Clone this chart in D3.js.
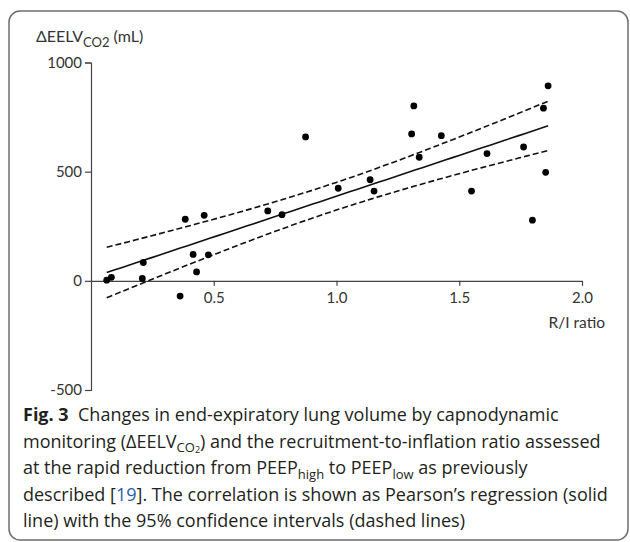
<!DOCTYPE html>
<html>
<head>
<meta charset="utf-8">
<script src="https://cdn.jsdelivr.net/npm/d3@7"></script>
<style>
  body { margin: 0; background: #fff; }
  svg { display: block; }
</style>
</head>
<body>
<div id="chart"></div>
<script>
// R/I ratio (x) and change in EELV by capnodynamic monitoring (y, mL)
const rri = [0.064, 0.083, 0.209, 0.213, 0.363, 0.384, 0.416, 0.430, 0.461, 0.478,
             0.720, 0.778, 0.874, 1.007, 1.137, 1.153, 1.306, 1.315, 1.337, 1.427,
             1.550, 1.613, 1.762, 1.798, 1.843, 1.852, 1.862]
const deelv = [3, 16, 11, 84, -70, 282, 121, 41, 300, 119,
               320, 303, 659, 424, 463, 411, 673, 801, 566, 665,
               411, 583, 613, 278, 791, 497, 893]
const xTicks = [0.5, 1.0, 1.5, 2.0]
const yTicks = [-500, 0, 500, 1000]
const tCrit = 2.0595 // t(0.975, df = 25)

const width = 630, height = 542
const svg = d3.select("#chart").append("svg")
  .attr("width", width)
  .attr("height", height)

// panel frame
svg.append("rect")
  .attr("x", 9).attr("y", 11)
  .attr("width", 619).attr("height", 529)
  .attr("rx", 11).attr("ry", 11)
  .attr("fill", "none")
  .attr("stroke", "#6e6e6e")
  .attr("stroke-width", 1.5)

const x = d3.scaleLinear().domain([0, 2]).range([91, 582])
const y = d3.scaleLinear().domain([-500, 1000]).range([390, 62.5])

const axisFont = "Lato, 'Noto Sans', sans-serif"
const axisColor = "#444"

// y axis
const gy = svg.append("g")
  .attr("transform", "translate(" + x(0) + ",0)")
  .call(d3.axisLeft(y).tickValues(yTicks).tickFormat(d3.format("d")).tickSize(6).tickPadding(3))
gy.select(".domain").attr("stroke", axisColor).attr("stroke-width", 1.2)
gy.selectAll(".tick line").attr("stroke", axisColor).attr("stroke-width", 1.2)
gy.selectAll(".tick text")
  .attr("font-family", axisFont).attr("font-size", 15).attr("fill", "#333")
  .text(d => d < 0 ? "-" + Math.abs(d) : d)

// x axis at y = 0
const gx = svg.append("g")
  .attr("transform", "translate(0," + y(0) + ")")
  .call(d3.axisBottom(x).tickValues(xTicks).tickFormat(d3.format(".1f")).tickSize(5).tickSizeOuter(0).tickPadding(7))
gx.select(".domain").attr("stroke", axisColor).attr("stroke-width", 1.2)
gx.selectAll(".tick line").attr("stroke", axisColor).attr("stroke-width", 1.2)
gx.selectAll(".tick text")
  .attr("font-family", axisFont).attr("font-size", 15).attr("fill", "#333")

svg.append("text")
  .attr("x", 605).attr("y", 328)
  .attr("text-anchor", "end")
  .attr("font-family", axisFont).attr("font-size", 15.5).attr("fill", "#333")
  .text("R/I ratio")

// y axis title
const yt = svg.append("text")
  .attr("x", 36).attr("y", 42)
  .attr("font-family", axisFont).attr("font-size", 16).attr("fill", "#333")
yt.append("tspan").text("ΔEELV")
yt.append("tspan").attr("dy", 5).attr("font-size", 13).text("CO2")
yt.append("tspan").attr("dy", -5).text(" (mL)")

// Pearson regression with 95% confidence band
const n = rri.length
const mx = d3.mean(rri), my = d3.mean(deelv)
let sxx = 0, sxy = 0
rri.forEach((v, i) => { sxx += (v - mx) * (v - mx); sxy += (v - mx) * (deelv[i] - my) })
const slope = sxy / sxx
const icpt = my - slope * mx
let sse = 0
rri.forEach((v, i) => { const r = deelv[i] - (icpt + slope * v); sse += r * r })
const s = Math.sqrt(sse / (n - 2))

const xs = d3.range(0, 61).map(i => d3.min(rri) + (d3.max(rri) - d3.min(rri)) * i / 60)
const fit = xs.map(v => {
  const yh = icpt + slope * v
  const h = tCrit * s * Math.sqrt(1 / n + (v - mx) * (v - mx) / sxx)
  return { x: v, y: yh, lo: yh - h, hi: yh + h }
})

const line = key => d3.line().x(d => x(d.x)).y(d => y(d[key]))

svg.append("path").datum(fit)
  .attr("d", line("y"))
  .attr("fill", "none").attr("stroke", "#111").attr("stroke-width", 1.6)
;["lo", "hi"].forEach(k => {
  svg.append("path").datum(fit)
    .attr("d", line(k))
    .attr("fill", "none").attr("stroke", "#111").attr("stroke-width", 1.6)
    .attr("stroke-dasharray", "6,3")
})

// data points
svg.selectAll("circle.pt")
  .data(rri.map((v, i) => ({ x: v, y: deelv[i] })))
  .enter()
  .append("circle")
    .attr("class", "pt")
    .attr("cx", d => x(d.x))
    .attr("cy", d => y(d.y))
    .attr("r", 3.4)
    .attr("fill", "#000")

// caption; each part: [kind, text, dy]
const capFont = "'Open Sans', 'Noto Sans', sans-serif"
const capColor = "#231f20"
const capLines = [
  { y: 421, parts: [["b", "Fig. 3", 0], ["n", "\u00a0 Changes in end-expiratory lung volume by capnodynamic", 0]] },
  { y: 447.5, parts: [["n", "monitoring (ΔEELV", 0], ["sub", "CO", 4], ["sub2", "2", 1.5], ["n", ") and the recruitment-to-inflation ratio assessed", -5.5]] },
  { y: 474, parts: [["n", "at the rapid reduction from PEEP", 0], ["sub", "high", 5], ["n", " to PEEP", -5], ["sub", "low", 5], ["n", " as previously", -5]] },
  { y: 500.5, parts: [["n", "described [", 0], ["link", "19", 0], ["n", "]. The correlation is shown as Pearson’s regression (solid", 0]] },
  { y: 527, parts: [["n", "line) with the 95% confidence intervals (dashed lines)", 0]] }
]
capLines.forEach(l => {
  const t = svg.append("text")
    .attr("x", 23).attr("y", l.y)
    .attr("font-family", capFont).attr("font-size", 18).attr("fill", capColor)
  l.parts.forEach(([kind, str, dy]) => {
    const ts = t.append("tspan").text(str)
    if (dy) ts.attr("dy", dy)
    if (kind === "b") ts.attr("font-weight", "bold")
    if (kind === "sub") ts.attr("font-size", 13)
    if (kind === "sub2") ts.attr("font-size", 9)
    if (kind === "link") ts.attr("fill", "#2a5db0")
  })
})
</script>
</body>
</html>
